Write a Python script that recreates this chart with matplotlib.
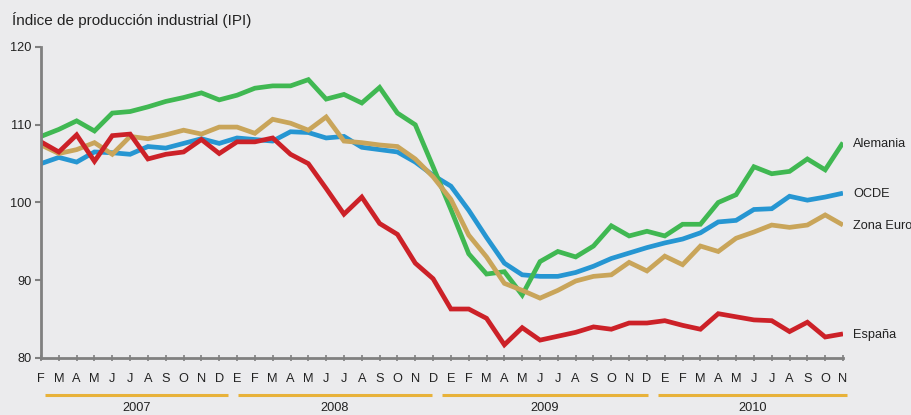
import numpy as np
import matplotlib
matplotlib.use("Agg")
import matplotlib.pyplot as plt

plt.rcParams['font.family'] = ['Liberation Sans', 'DejaVu Sans']

# months Feb 2007 .. Nov 2010 (E = enero)
months = ['F', 'M', 'A', 'M', 'J', 'J', 'A', 'S', 'O', 'N', 'D',
          'E', 'F', 'M', 'A', 'M', 'J', 'J', 'A', 'S', 'O', 'N', 'D',
          'E', 'F', 'M', 'A', 'M', 'J', 'J', 'A', 'S', 'O', 'N', 'D',
          'E', 'F', 'M', 'A', 'M', 'J', 'J', 'A', 'S', 'O', 'N']
years = ['2007', '2008', '2009', '2010']

alemania = [108.5, 109.4, 110.5, 109.2, 111.5, 111.7, 112.3, 113.0, 113.5, 114.1, 113.2,
            113.8, 114.7, 115.0, 115.0, 115.8, 113.3, 113.9, 112.8, 114.8, 111.5, 110.0, 104.6,
            99.1, 93.4, 90.8, 91.1, 88.1, 92.4, 93.7, 93.0, 94.4, 97.0, 95.7, 96.3,
            95.7, 97.2, 97.2, 100.0, 101.0, 104.6, 103.7, 104.0, 105.6, 104.2, 107.7]
ocde = [105.0, 105.8, 105.2, 106.5, 106.4, 106.2, 107.2, 107.0, 107.6, 108.2, 107.6,
        108.3, 108.1, 107.9, 109.1, 109.0, 108.3, 108.5, 107.1, 106.8, 106.5, 105.2, 103.5,
        102.1, 99.0, 95.5, 92.2, 90.7, 90.5, 90.5, 91.0, 91.8, 92.8, 93.5, 94.2,
        94.8, 95.3, 96.1, 97.5, 97.7, 99.1, 99.2, 100.8, 100.3, 100.7, 101.2]
zona_euro = [107.4, 106.3, 106.8, 107.7, 106.2, 108.5, 108.2, 108.7, 109.3, 108.8, 109.7,
             109.7, 108.9, 110.7, 110.2, 109.3, 111.0, 107.9, 107.7, 107.4, 107.2, 105.6, 103.3,
             100.4, 95.8, 93.0, 89.6, 88.7, 87.7, 88.7, 89.9, 90.5, 90.7, 92.3, 91.2,
             93.1, 92.0, 94.4, 93.7, 95.4, 96.2, 97.1, 96.8, 97.1, 98.4, 97.1]
espana = [107.8, 106.5, 108.7, 105.3, 108.6, 108.8, 105.6, 106.2, 106.5, 108.1, 106.3,
          107.8, 107.8, 108.3, 106.2, 105.0, 101.8, 98.5, 100.7, 97.3, 95.9, 92.2, 90.2,
          86.3, 86.3, 85.1, 81.7, 83.9, 82.3, 82.8, 83.3, 84.0, 83.7, 84.5, 84.5,
          84.8, 84.2, 83.7, 85.7, 85.3, 84.9, 84.8, 83.4, 84.6, 82.7, 83.1]

bg = '#EBEBED'
axis_gray = '#808080'
gold = '#E8B23A'

fig = plt.figure(figsize=(9.12, 4.15), dpi=100, facecolor=bg)
ax = fig.add_axes([41 / 912, 57 / 415, 802 / 912, 311 / 415], facecolor=bg)

x = np.arange(len(months))
series = [(ocde, '#2696D2', 'OCDE'),
          (alemania, '#40B852', 'Alemania'),
          (zona_euro, '#C9A55A', 'Zona Euro'),
          (espana, '#CC2128', 'España')]
for vals, col, name in series:
    ax.plot(x, vals, color=col, lw=3.4, solid_joinstyle='miter', solid_capstyle='butt')
    ax.annotate(name, xy=(x[-1], vals[-1]), xytext=(10, -1), textcoords='offset pixels',
                va='center', ha='left', fontsize=9.2, color='#222222', annotation_clip=False)

ax.set_xlim(0, len(months) - 1)
ax.set_ylim(80, 120)
ax.set_yticks([80, 90, 100, 110, 120])
ax.set_xticks(x)
ax.set_xticklabels(months, fontsize=9.2, color='#222222')
ax.tick_params(axis='y', length=4, width=1.5, color=axis_gray, labelsize=9.2,
               labelcolor='#222222', pad=3)
ax.tick_params(axis='x', length=5, width=1.2, direction='inout', color=axis_gray, pad=8)
for s in ['top', 'right']:
    ax.spines[s].set_visible(False)
for s in ['left', 'bottom']:
    ax.spines[s].set_color(axis_gray)
    ax.spines[s].set_linewidth(2)

# year underlines below month letters (in month-index units)
spans = [(0.22, 10.48), (11.07, 21.92), (22.48, 34.08), (34.64, 45.2)]
for (a, b), yr in zip(spans, years):
    ax.plot([a, b], [-0.118, -0.118], transform=ax.get_xaxis_transform(),
            color=gold, lw=2.2, clip_on=False, solid_capstyle='butt')
    ax.text((a + b) / 2, -0.14, yr, transform=ax.get_xaxis_transform(),
            ha='center', va='top', fontsize=9.2, color='#222222')

fig.text(12 / 912, 1 - 20 / 415, 'Índice de producción industrial (IPI)',
         ha='left', va='center', fontsize=11, color='#222222')

fig.savefig('out.png', dpi=100, facecolor=bg)
